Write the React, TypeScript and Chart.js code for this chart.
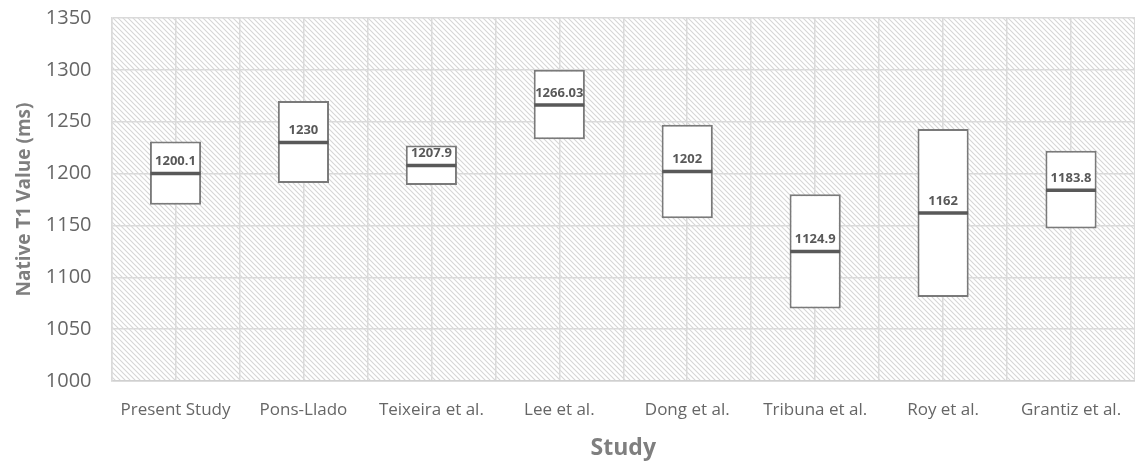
import React, { useEffect, useRef } from "react";
import { Chart, registerables } from "chart.js";

Chart.register(...registerables);

const categories = [
  "Present Study",
  "Pons-Llado",
  "Teixeira et al.",
  "Lee et al.",
  "Dong et al.",
  "Tribuna et al.",
  "Roy et al.",
  "Grantiz et al.",
];
const lowValues = [1170, 1191, 1189, 1233, 1157, 1070, 1081, 1147];
const highValues = [1231, 1270, 1227, 1300, 1247, 1180, 1243, 1222];
const medianValues = [1200.1, 1230, 1207.9, 1266.03, 1202, 1124.9, 1162, 1183.8];
const medianLabels = ["1200.1", "1230", "1207.9", "1266.03", "1202", "1124.9", "1162", "1183.8"];
const yMin = 1000;
const yMax = 1350;
const yStep = 50;

const FONT = "'Open Sans', 'Noto Sans', sans-serif";

function makePattern(ctx: CanvasRenderingContext2D) {
  const size = 5;
  const c = document.createElement("canvas");
  c.width = size;
  c.height = size;
  const p = c.getContext("2d")!;
  p.fillStyle = "#ffffff";
  p.fillRect(0, 0, size, size);
  p.strokeStyle = "#d6d6d6";
  p.lineWidth = 1.1;
  p.beginPath();
  p.moveTo(-1, -1);
  p.lineTo(size + 1, size + 1);
  p.moveTo(-1, size - 1);
  p.lineTo(1, size + 1);
  p.moveTo(size - 1, -1);
  p.lineTo(size + 1, 1);
  p.stroke();
  return ctx.createPattern(c, "repeat");
}

const hatchPlugin = {
  id: "hatchBg",
  beforeDraw(chart: any) {
    const { ctx, chartArea } = chart;
    if (!chartArea) return;
    ctx.save();
    ctx.fillStyle = makePattern(ctx) as any;
    ctx.fillRect(chartArea.left, chartArea.top, chartArea.right - chartArea.left, chartArea.bottom - chartArea.top);
    ctx.restore();
  },
};

const medianLabelPlugin = {
  id: "medianLabels",
  afterDatasetsDraw(chart: any) {
    const meta = chart.getDatasetMeta(1);
    const ctx = chart.ctx;
    ctx.save();
    ctx.font = `bold 13px ${FONT}`;
    ctx.fillStyle = "#595959";
    ctx.textAlign = "center";
    ctx.textBaseline = "middle";
    meta.data.forEach((pt: any, i: number) => {
      ctx.fillText(medianLabels[i], pt.x, pt.y - 12);
    });
    ctx.restore();
  },
};

export default function App() {
  const ref = useRef<HTMLCanvasElement>(null);
  useEffect(() => {
    document.body.style.margin = "0";
    const chart = new Chart(ref.current!, {
      type: "bar",
      data: {
        labels: categories,
        datasets: [
          {
            type: "bar",
            data: categories.map((_, i) => [lowValues[i], highValues[i]]) as any,
            backgroundColor: "#ffffff",
            borderColor: "#7a7a7a",
            borderWidth: 2,
            borderSkipped: false,
            categoryPercentage: 1,
            barPercentage: 0.4,
            order: 1,
          } as any,
          {
            type: "line",
            data: medianValues,
            showLine: false,
            pointStyle: "line",
            pointRadius: 25,
            pointHoverRadius: 25,
            pointBorderWidth: 3.5,
            pointBorderColor: "#595959",
            borderColor: "#595959",
            order: 0,
          } as any,
        ],
      },
      options: {
        responsive: false,
        animation: false,
        events: [],
        layout: { autoPadding: false, padding: { left: 13, top: 18, right: 0, bottom: 3 } },
        plugins: {
          legend: { display: false },
          tooltip: { enabled: false },
        },
        scales: {
          x: {
            type: "category",
            offset: true,
            grid: {
              offset: true,
              color: "#dadada",
              lineWidth: 1.5,
              drawTicks: true,
              tickLength: 19,
              tickColor: "rgba(0,0,0,0)",
            },
            border: { display: true, color: "#d0d0d0", width: 1.5 },
            ticks: { color: "#666666", font: { family: FONT, size: 17 }, padding: 0 },
            title: {
              display: true,
              text: "Study",
              color: "#7f7f7f",
              font: { family: FONT, size: 23, weight: "bold" },
              padding: { top: 14, bottom: 0 },
            },
          },
          x2: {
            type: "category",
            position: "top",
            offset: true,
            grid: { offset: false, color: "#dadada", lineWidth: 1.5, drawTicks: false },
            border: { display: false },
            ticks: { display: false },
          },
          y: {
            min: yMin,
            max: yMax,
            ticks: {
              stepSize: yStep,
              color: "#666666",
              font: { family: FONT, size: 20 },
              padding: 0,
              callback: (v: any) => String(v),
            },
            grid: {
              color: "#dadada",
              lineWidth: 1.5,
              drawTicks: true,
              tickLength: 20,
              tickColor: "rgba(0,0,0,0)",
            },
            border: { display: true, color: "#dadada", width: 1.5 },
            title: {
              display: true,
              text: "Native T1 Value (ms)",
              color: "#7f7f7f",
              font: { family: FONT, size: 19, weight: "bold" },
              padding: { top: 0, bottom: 10 },
            },
          },
        },
      } as any,
      plugins: [hatchPlugin, medianLabelPlugin],
    });
    return () => chart.destroy();
  }, []);
  return (
    <div style={{ width: 1135, height: 465 }}>
      <canvas ref={ref} width={1135} height={465} />
    </div>
  );
}
